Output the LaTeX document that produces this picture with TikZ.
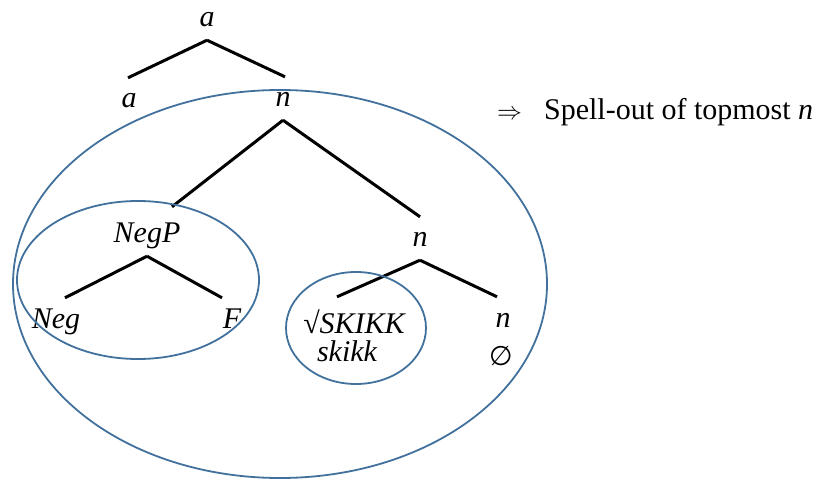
\documentclass[tikz,border=0pt]{standalone}
\usepackage{fontspec}
\setmainfont{Liberation Serif}
\newfontfamily\tssym{DejaVu Sans}
\definecolor{tsblue}{RGB}{65,113,156}
\definecolor{tsdark}{RGB}{0,0,0}
\def\tsBranch#1#2#3{\draw[tsline] (#1.south) -- ([xshift=#3pt]#2.north);}
\def\tsRing#1#2#3#4{\draw[tsring] (#1,#2) ellipse [x radius=#3, y radius=#4];}

\begin{document}
\begin{tikzpicture}[
    x=1pt, y=-1pt,
    tsline/.style = {tsdark, line width=3pt},
    tsring/.style = {tsblue, line width=1.8pt},
    tslbl/.style  = {font=\fontsize{30}{34}\selectfont\itshape, text=tsdark,
                     anchor=base, text height=22pt, text depth=5pt,
                     inner xsep=1pt, inner ysep=8pt},
    tscap/.style  = {tslbl, text height=28pt},
    tsform/.style = {font=\fontsize{30}{34}\selectfont\itshape, text=tsdark,
                     anchor=base, inner sep=0pt},
    tsnote/.style = {font=\fontsize{30}{34}\selectfont, text=tsdark,
                     anchor=base west, inner sep=0pt}]

  \useasboundingbox (0,0) rectangle (815,484);

  %% ---- labels ------------------------------------------------------
  \node[tslbl] (aTop)  at (207,27)  {a};
  \node[tslbl] (aLeft) at (129,108) {a};
  \node[tslbl] (nTop)  at (283,107) {n};
  \node[tscap] (negP)  at (147,243) {NegP};
  \node[tslbl] (nMid)  at (420,247) {n};
  \node[tslbl] (neg)   at (56,328)  {Neg};
  \node[tslbl] (fF)    at (232,328) {F};
  \node[tscap] (root)  at (354,333) {{\upshape √}SKIKK};
  \node[tsform] (rootV) at (347,361) {skikk};
  \node[tslbl] (nLow)  at (503,327) {n};
  \node[tsform] (nNull) at (501,365) {\tssym\upshape\fontsize{27}{30}\selectfont ∅};

  \node[tsnote] (spell) at (497,120) {$\Rightarrow$\hspace{22pt}Spell-out of topmost \textit{n}};

  %% ---- branches ----------------------------------------------------
  \tsBranch{aTop}{aLeft}{-1}
  \tsBranch{aTop}{nTop}{2}
  \tsBranch{nTop}{negP}{25}
  \tsBranch{nTop}{nMid}{0}
  \tsBranch{negP}{neg}{9}
  \tsBranch{negP}{fF}{-10}
  \tsBranch{nMid}{root}{-17}
  \tsBranch{nMid}{nLow}{-6}

  %% ---- spell-out domains -------------------------------------------
  \tsRing{280}{284}{267}{194}
  \tsRing{138}{280}{121}{79}
  \tsRing{356}{328}{70}{56}
\end{tikzpicture}
\end{document}
